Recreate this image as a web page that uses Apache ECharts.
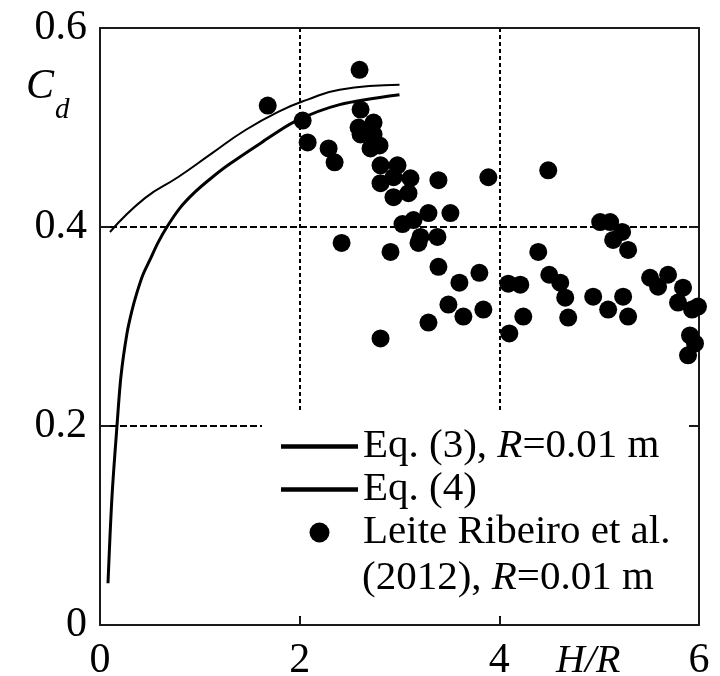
<!DOCTYPE html>
<html>
<head>
<meta charset="utf-8">
<script src="https://cdn.jsdelivr.net/npm/echarts@6/dist/echarts.min.js"></script>
<style>
html,body{margin:0;padding:0;background:#fff;}
#main{width:720px;height:676px;}
</style>
</head>
<body>
<div id="main"></div>
<script>
// Eq. (3), R = 0.01 m
var eq3X = [0.08, 0.12, 0.17, 0.21, 0.27, 0.32, 0.37, 0.43, 0.50, 0.58, 0.67, 0.80, 0.95, 1.10, 1.28, 1.62, 1.95, 2.40, 3.00];
var eq3Y = [0.042, 0.129, 0.200, 0.250, 0.293, 0.316, 0.334, 0.352, 0.367, 0.384, 0.400, 0.419, 0.435, 0.448, 0.462, 0.485, 0.506, 0.523, 0.533];
// Eq. (4)
var eq4X = [0.10, 0.45, 0.78, 1.12, 1.45, 1.79, 2.08, 2.40, 3.00];
var eq4Y = [0.395, 0.429, 0.450, 0.474, 0.497, 0.516, 0.528, 0.538, 0.543];
// Leite Ribeiro et al. (2012), R = 0.01 m
var obsX = [1.68, 2.03, 2.08, 2.29, 2.35, 2.60, 2.61, 2.59, 2.74, 2.61, 2.74, 2.71, 2.80, 2.81, 2.98,
  2.81, 2.94, 3.11, 2.94, 3.09, 3.39, 3.89, 4.49, 3.03, 3.14, 3.29, 3.51, 3.21, 3.38, 3.19,
  2.42, 2.91, 3.39, 3.60, 3.80, 3.49, 3.64, 3.84, 3.29, 2.81, 4.09, 4.21, 4.10, 4.24, 4.39,
  4.50, 4.61, 4.66, 4.69, 5.01, 5.11, 5.23, 5.14, 5.29, 4.94, 5.09, 5.24, 5.29, 5.51, 5.59,
  5.69, 5.84, 5.79, 5.93, 5.99, 5.91, 5.96, 5.89];
var obsY = [0.522, 0.507, 0.485, 0.479, 0.465, 0.558, 0.518, 0.500, 0.505, 0.493, 0.493, 0.479, 0.482, 0.462, 0.462,
  0.444, 0.450, 0.449, 0.430, 0.434, 0.447, 0.450, 0.457, 0.403, 0.407, 0.414, 0.414, 0.390, 0.390, 0.384,
  0.384, 0.375, 0.360, 0.344, 0.354, 0.322, 0.310, 0.317, 0.304, 0.288, 0.343, 0.342, 0.293, 0.310, 0.375,
  0.352, 0.344, 0.329, 0.309, 0.405, 0.405, 0.395, 0.387, 0.377, 0.330, 0.317, 0.330, 0.310, 0.349, 0.340,
  0.352, 0.339, 0.324, 0.317, 0.320, 0.291, 0.283, 0.271];
var xTicks = [0, 2, 4, 6];
var yTicks = [0, 0.2, 0.4, 0.6];
var seriesNames = ['Eq. (3), R=0.01 m', 'Eq. (4)', 'Leite Ribeiro et al.'];

function zip(a, b) {
  var out = [];
  for (var i = 0; i < a.length; i++) out.push([a[i], b[i]]);
  return out;
}

var FONT = '"Liberation Serif", "Times New Roman", serif';
var chart = echarts.init(document.getElementById('main'));

var axisLineStyle = { color: '#1a1a1a', width: 2 };
var lineIcon = 'path://M0,0 L77,0 L77,4.5 L0,4.5 Z';

var option = {
  animation: false,
  backgroundColor: '#fff',
  textStyle: { fontFamily: FONT, color: '#000' },
  grid: { left: 100, right: 21, top: 28, bottom: 51, containLabel: false, outerBoundsMode: 'none' },
  xAxis: [{
    type: 'value', min: xTicks[0], max: xTicks[xTicks.length - 1], interval: 2,
    axisLine: { onZero: false, lineStyle: axisLineStyle },
    axisTick: { inside: true, length: 8, lineStyle: axisLineStyle },
    axisLabel: { fontFamily: FONT, fontSize: 42, color: '#000', margin: 15 },
    splitLine: { show: true, showMinLine: false, showMaxLine: false,
      lineStyle: { color: '#000', width: 2, type: [4, 3] } }
  }, {
    type: 'value', position: 'top', min: 0, max: 6, interval: 2,
    axisLine: { show: true, onZero: false, lineStyle: axisLineStyle },
    axisTick: { show: false }, axisLabel: { show: false }, splitLine: { show: false }
  }],
  yAxis: [{
    type: 'value', min: yTicks[0], max: yTicks[yTicks.length - 1], interval: 0.2,
    axisLine: { show: true, onZero: false, lineStyle: axisLineStyle },
    axisTick: { show: true, inside: true, length: 10, lineStyle: axisLineStyle },
    axisLabel: {
      fontFamily: FONT, fontSize: 42, color: '#000', margin: 13,
      formatter: function (v) { return v === 0 ? '0' : v.toFixed(1); }
    },
    splitLine: { show: true, showMinLine: false, showMaxLine: false,
      lineStyle: { color: '#000', width: 2, type: [7, 3] } }
  }, {
    type: 'value', position: 'right', min: 0, max: 0.6, interval: 0.2,
    axisLine: { show: true, onZero: false, lineStyle: axisLineStyle },
    axisTick: { show: true, inside: true, length: 10, lineStyle: axisLineStyle },
    axisLabel: { show: false }, splitLine: { show: false }
  }],
  legend: {
    orient: 'vertical',
    left: 276, top: 421,
    itemWidth: 77, itemHeight: 20, itemGap: 2,
    textStyle: {
      fontFamily: FONT, fontSize: 41, color: '#000', lineHeight: 40,
      rich: {
        n: { fontFamily: FONT, fontSize: 41, color: '#000', lineHeight: 40 },
        i: { fontFamily: FONT, fontSize: 41, color: '#000', lineHeight: 40, fontStyle: 'italic' }
      }
    },
    formatter: function (name) {
      if (name === seriesNames[0]) return '{n|Eq. (3), }{i|R}{n|=0.01 m}';
      return '{n|' + name + '}';
    },
    data: [
      { name: seriesNames[0], icon: lineIcon, itemStyle: { color: '#000' } },
      { name: seriesNames[1], icon: lineIcon, itemStyle: { color: '#000' } },
      { name: seriesNames[2], icon: 'circle', itemStyle: { color: '#000', opacity: 1 } }
    ]
  },
  graphic: [
    { type: 'rect', z: 1, shape: { x: 262, y: 411, width: 427, height: 205 }, style: { fill: '#fff' } },
    { type: 'text', z: 5, left: 362, top: 558, style: {
      text: '{n|(2012), }{i|R}{n|=0.01 m}',
      rich: {
        n: { fontFamily: FONT, fontSize: 41, fill: '#000', lineHeight: 40 },
        i: { fontFamily: FONT, fontSize: 41, fill: '#000', lineHeight: 40, fontStyle: 'italic' }
      }
    } },
    { type: 'text', z: 5, left: 26, top: 66, style: { text: 'C', font: 'italic 42px "Liberation Serif"', fill: '#000' } },
    { type: 'text', z: 5, left: 55, top: 96, style: { text: 'd', font: 'italic 29px "Liberation Serif"', fill: '#000' } },
    { type: 'text', z: 5, left: 556, top: 641, style: { text: 'H/R', font: 'italic 40px "Liberation Serif"', fill: '#000' } }
  ],
  series: [{
    name: seriesNames[0], type: 'line', symbol: 'none', smooth: 0.3, z: 3,
    lineStyle: { color: '#000', width: 3 },
    itemStyle: { color: '#000' },
    data: zip(eq3X, eq3Y)
  }, {
    name: seriesNames[1], type: 'line', symbol: 'none', smooth: 0.5, z: 3,
    lineStyle: { color: '#000', width: 2 },
    itemStyle: { color: '#000' },
    data: zip(eq4X, eq4Y)
  }, {
    name: seriesNames[2], type: 'scatter', symbol: 'circle', symbolSize: 18, z: 4,
    itemStyle: { color: '#000', opacity: 1 },
    data: zip(obsX, obsY)
  }]
};

chart.setOption(option);
window.onresize = chart.resize;
</script>
</body>
</html>
